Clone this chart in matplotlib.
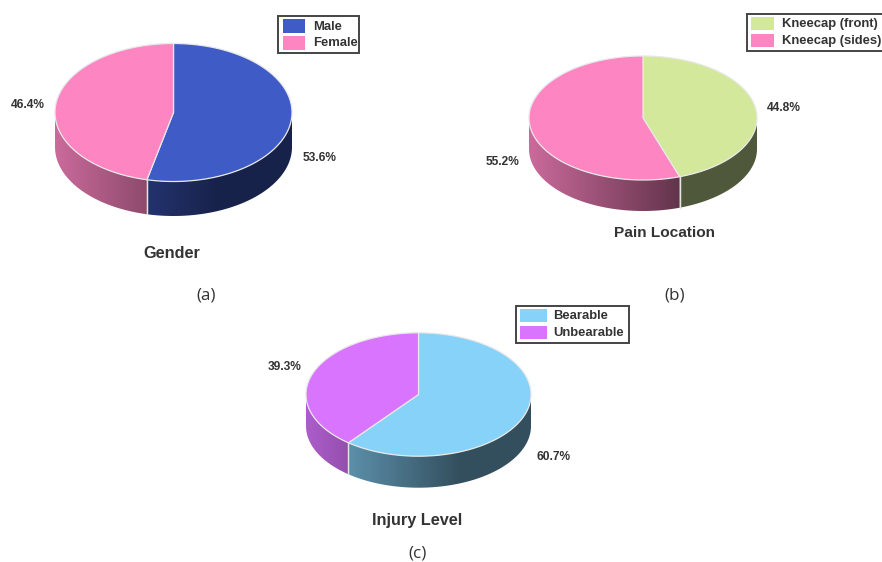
import matplotlib.pyplot as plt
import numpy as np
from matplotlib.colors import to_rgb
from matplotlib.patches import Polygon, Rectangle

# Survey results, in percent
gender_labels = ['Male', 'Female']
gender_values = [53.6, 46.4]
location_labels = ['Kneecap (front)', 'Kneecap (sides)']
location_values = [44.8, 55.2]
injury_labels = ['Bearable', 'Unbearable']
injury_values = [60.7, 39.3]

BLUE = '#3f5bc6'
PINK = '#fd85c2'
GREEN = '#d4e89c'
SKY = '#87d2f9'
PURPLE = '#d874fd'
TEXT = '#333333'

plt.rcParams['font.family'] = ['Liberation Sans', 'DejaVu Sans']


def px(size):
    # font size in pixels -> points at 100 dpi
    return size * 0.72


def pie3d(ax, values, colors, cx, cy, rx, ry, depth):
    # slices run clockwise from 12 o'clock
    edges = np.cumsum([0] + list(values)) / sum(values) * 2 * np.pi

    # side wall first, only the part facing the viewer
    for a0, a1, color in zip(edges[:-1], edges[1:], colors):
        lo, hi = max(a0, np.pi / 2), min(a1, 3 * np.pi / 2)
        if lo >= hi:
            continue
        ang = np.linspace(lo, hi, 200)
        xs = cx + rx * np.sin(ang)
        ys = cy - ry * np.cos(ang)
        outline = list(zip(xs, ys)) + list(zip(xs[::-1], ys[::-1] + depth))
        clip = Polygon(outline, closed=True, facecolor='none', edgecolor='none',
                       transform=ax.transData)
        ax.add_patch(clip)

        # wall gets darker going right, then stays flat
        t = np.linspace(0, 1, 256)
        factor = np.maximum(0.8 - 0.62 * t, 0.38)
        grad = factor[None, :, None] * np.array(to_rgb(color))[None, None, :]
        im = ax.imshow(grad, extent=(cx - rx, cx + rx, cy + ry + depth, cy - ry),
                       aspect='auto', interpolation='bilinear', zorder=2)
        im.set_clip_path(clip)

        # seam between the two slices on the wall
        for a in (lo, hi):
            if np.pi / 2 < a < 3 * np.pi / 2:
                x = cx + rx * np.sin(a)
                y = cy - ry * np.cos(a)
                ax.plot([x, x], [y, y + depth], color='#e4e4e4', lw=0.9, zorder=3)

    # top face
    for a0, a1, color in zip(edges[:-1], edges[1:], colors):
        ang = np.linspace(a0, a1, 200)
        pts = [(cx, cy)] + list(zip(cx + rx * np.sin(ang), cy - ry * np.cos(ang)))
        ax.add_patch(Polygon(pts, closed=True, facecolor=color, edgecolor='#e8e8e8',
                             lw=0.9, joinstyle='round', zorder=4))


def legend_box(ax, labels, colors, x0, x1, y0, y1, sw_x0, sw_x1, sw_ys, text_x):
    ax.add_patch(Rectangle((x0, y0), x1 - x0, y1 - y0, facecolor='white',
                           edgecolor='#444444', lw=1.4, zorder=5))
    for label, color, (s0, s1) in zip(labels, colors, sw_ys):
        ax.add_patch(Rectangle((sw_x0, s0), sw_x1 - sw_x0, s1 - s0, facecolor=color,
                               edgecolor='none', zorder=6))
        ax.text(text_x, (s0 + s1) / 2 + 0.5, label, fontsize=px(13), fontweight='bold',
                color=TEXT, va='center', ha='left', zorder=6)


def note(ax, x, y, s, size, weight='bold', **kw):
    ax.text(x, y, s, fontsize=px(size), fontweight=weight, color=TEXT,
            ha='center', va='center', **kw)


fig = plt.figure(figsize=(8.82, 5.62), dpi=100, facecolor='white')
ax = fig.add_axes([0, 0, 1, 1])

# (a) Gender
pie3d(ax, gender_values, [BLUE, PINK], 173.5, 112.5, 118.5, 69, 34.5)
legend_box(ax, gender_labels, [BLUE, PINK], 278, 359, 16, 53, 283, 305,
           [(19, 33), (36, 50)], 313)
note(ax, 320, 158, f'{gender_values[0]}%', 12)
note(ax, 28, 105, f'{gender_values[1]}%', 12)
note(ax, 172, 254, 'Gender', 16.3)
note(ax, 206, 296, '(a)', 17, weight='normal', family='Open Sans')

# (b) Pain Location
pie3d(ax, location_values, [GREEN, PINK], 643, 118, 114, 62, 31)
legend_box(ax, location_labels, [GREEN, PINK], 747, 900, 14, 51, 751, 774,
           [(17, 30), (34, 47)], 782)
note(ax, 784, 108, f'{location_values[0]}%', 12)
note(ax, 503, 162, f'{location_values[1]}%', 12)
note(ax, 664.5, 233, 'Pain Location', 15.4)
note(ax, 675, 296, '(b)', 17, weight='normal', family='Open Sans')

# (c) Injury Level
pie3d(ax, injury_values, [SKY, PURPLE], 418.5, 394.5, 112.5, 61.7, 31.5)
legend_box(ax, injury_labels, [SKY, PURPLE], 516, 629, 306, 343, 520, 547,
           [(309, 322), (326, 339)], 553)
note(ax, 554, 457, f'{injury_values[0]}%', 12)
note(ax, 285, 367, f'{injury_values[1]}%', 12)
note(ax, 417.5, 521, 'Injury Level', 16.3)
note(ax, 418, 553, '(c)', 17, weight='normal', family='Open Sans')

# imshow resets the limits, so set them after the pies
ax.set_xlim(0, 882)
ax.set_ylim(562, 0)
ax.axis('off')

fig.savefig('out.png', dpi=100)
